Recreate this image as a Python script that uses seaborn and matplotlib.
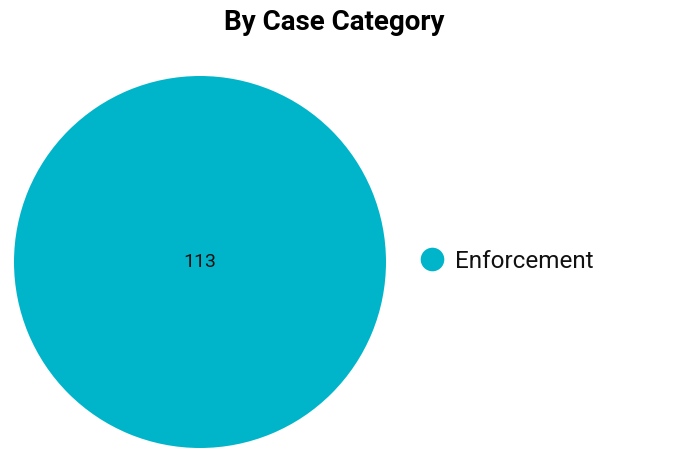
import matplotlib
matplotlib.use("Agg")
import matplotlib.pyplot as plt
import seaborn as sns
from matplotlib.lines import Line2D

categories = ["Enforcement"]
values = [113]
colors = ["#00B5CA"]
title = "By Case Category"

sns.set_theme(style="white")
plt.rcParams['font.family'] = ['Roboto', 'DejaVu Sans']

fig = plt.figure(figsize=(6.73, 4.69), dpi=100)
fig.patch.set_facecolor("white")
ax = fig.add_axes([14/673, (469-262-186)/469, 372/673, 372/469])
wedges, texts = ax.pie(values, colors=colors, radius=1.0, startangle=90,
                       counterclock=False, wedgeprops=dict(linewidth=0))
for w, v in zip(wedges, values):
    ax.text(0, 0, str(v), ha="center", va="center", fontsize=14, color="#111111")
ax.set_xlim(-1, 1)
ax.set_ylim(-1, 1)
ax.set_aspect("equal")
ax.axis("off")

fig.text(334/673, 1 - 22/469, title, ha="center", va="center",
         fontsize=20, fontweight="bold", color="black")

handles = [Line2D([0], [0], marker="o", linestyle="", markersize=17,
                  markerfacecolor=c, markeredgewidth=0) for c in colors]
fig.legend(handles, categories, loc="center left",
           bbox_to_anchor=(417/673, 1 - 261/469), frameon=False,
           fontsize=17.5, handletextpad=0.35, borderaxespad=0, borderpad=0,
           handlelength=1.2, labelcolor="#111111")

fig.savefig("out.png", dpi=100, facecolor="white")
